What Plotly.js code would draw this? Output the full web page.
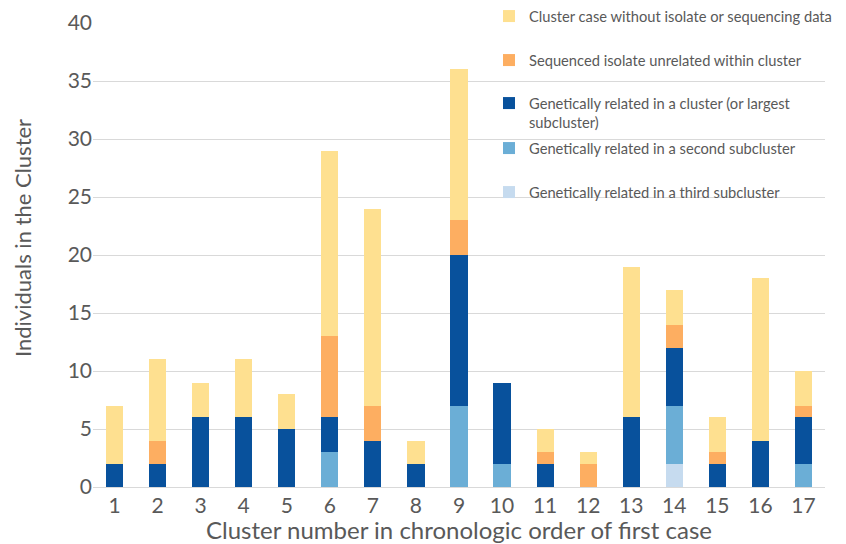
<!DOCTYPE html>
<html>
<head>
<meta charset="utf-8">
<script src="https://cdn.plot.ly/plotly-3.0.1.min.js"></script>
<style>html,body{margin:0;padding:0;background:#fff}#chart{width:846px;height:544px}</style>
</head>
<body>
<div id="chart"></div>
<script>
const clusters = ['1','2','3','4','5','6','7','8','9','10','11','12','13','14','15','16','17'];
const thirdSub   = [0,0,0,0,0,0,0,0,0,0,0,0,0,2,0,0,0];
const secondSub  = [0,0,0,0,0,3,0,0,7,2,0,0,0,5,0,0,2];
const largest    = [2,2,6,6,5,3,4,2,13,7,2,0,6,5,2,4,4];
const unrelated  = [0,2,0,0,0,7,3,0,3,0,1,2,0,2,1,0,1];
const noIsolate  = [5,7,3,5,3,16,17,2,13,0,2,1,13,3,3,14,3];

const names = [
  'Genetically related in a third subcluster',
  'Genetically related in a second subcluster',
  'Genetically related in a cluster (or largest<br>subcluster)',
  'Sequenced isolate unrelated within cluster',
  'Cluster case without isolate or sequencing data'
];
const series = [thirdSub, secondSub, largest, unrelated, noIsolate];
const colors = ['#C6DBEF', '#6BAED6', '#08519C', '#FDAE61', '#FEE090'];
const legendIds = ['legend5','legend4','legend3','legend2','legend'];
const legendTops = [176, 132, 87, 44, 0];

const font = 'Lato, "Open Sans", sans-serif';
const txt = '#595959';

const ML = 93, MR = 21, MT = 23, MB = 57, W = 846, H = 544;
const PW = W - ML - MR, PH = H - MT - MB;

const traces = series.map((vals, i) => ({
  type: 'bar', x: clusters, y: vals, name: names[i],
  marker: {color: colors[i], line: {width: 0}},
  legend: legendIds[i], hoverinfo: 'x+y+name'
}));

const layout = {
  width: W, height: H,
  margin: {l: ML, r: MR, t: MT, b: MB, autoexpand: false},
  barmode: 'stack', bargap: 0.6,
  paper_bgcolor: '#fff', plot_bgcolor: '#fff',
  font: {family: font, color: txt},
  xaxis: {
    type: 'category', tickfont: {size: 21, color: txt}, showgrid: false,
    showline: true, linecolor: '#d9d9d9', ticks: '', automargin: false,
    title: {text: 'Cluster number in chronologic order of first case', font: {size: 24, color: txt}, standoff: 6}
  },
  yaxis: {
    range: [0, 40], dtick: 5, tickfont: {size: 21, color: txt}, automargin: false,
    gridcolor: '#d9d9d9', gridwidth: 1, zeroline: false, ticks: '', ticklen: 0
  },
  annotations: [{
    text: 'Individuals in the Cluster', textangle: -90, showarrow: false,
    xref: 'paper', yref: 'paper', x: (22 - ML)/PW, y: (H - MB - 238)/PH,
    xanchor: 'center', yanchor: 'middle', font: {size: 22, color: txt, family: font}
  }],
  showlegend: true
};
legendIds.forEach((id, i) => {
  layout[id] = {
    xref: 'paper', yref: 'paper',
    x: (489 - ML)/PW, y: (H - MB - legendTops[i])/PH, xanchor: 'left', yanchor: 'top',
    bgcolor: 'rgba(0,0,0,0)', font: {size: 14.7, color: txt, family: font},
    valign: 'top', itemwidth: 30
  };
});
Plotly.newPlot('chart', traces, layout, {displayModeBar: false, staticPlot: true});
</script>
</body>
</html>
